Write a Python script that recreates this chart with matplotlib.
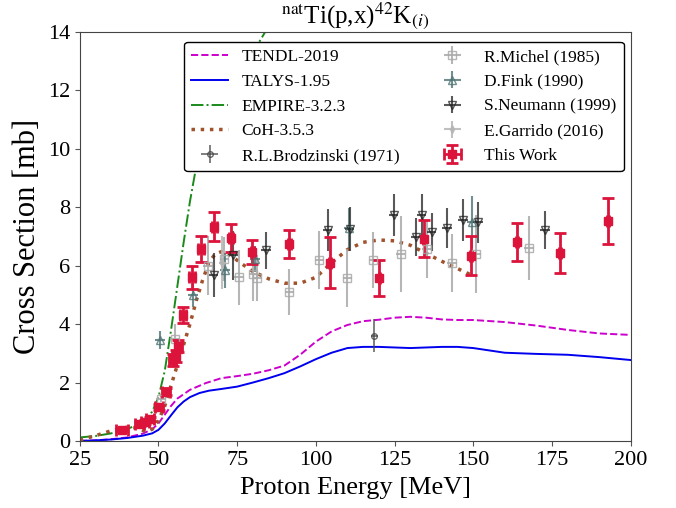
import matplotlib
matplotlib.use("Agg")
import matplotlib.pyplot as plt
import numpy as np

plt.rcParams['font.family'] = ['Liberation Serif', 'DejaVu Serif']
plt.rcParams['mathtext.fontset'] = 'stix'

# --- theory curves (energy in MeV, cross section in mb) ---
tendl_e = [25, 30, 35, 40, 45, 48, 50, 52, 54, 56, 58, 60, 65, 70, 75, 80, 85, 90, 95,
           100, 105, 110, 115, 120, 125, 130, 135, 140, 145, 150, 160, 170, 180, 190, 200]
tendl_s = [0.0, 0.02, 0.06, 0.12, 0.25, 0.4, 0.6, 0.9, 1.2, 1.45, 1.6, 1.75, 1.98, 2.15, 2.22,
           2.3, 2.42, 2.58, 2.95, 3.4, 3.75, 3.97, 4.1, 4.15, 4.22, 4.25, 4.22, 4.16, 4.14,
           4.14, 4.07, 3.95, 3.8, 3.68, 3.63]

talys_e = [25, 30, 35, 40, 45, 48, 50, 52, 54, 56, 58, 60, 63, 66, 70, 75, 80, 85, 90, 95,
           100, 105, 110, 115, 120, 125, 130, 135, 140, 145, 150, 155, 160, 170, 180, 190, 200]
talys_s = [0.0, 0.02, 0.05, 0.1, 0.18, 0.26, 0.38, 0.6, 0.88, 1.15, 1.35, 1.5, 1.64, 1.72,
           1.78, 1.86, 2.0, 2.15, 2.32, 2.55, 2.8, 3.02, 3.18, 3.22, 3.22, 3.2, 3.18, 3.2,
           3.22, 3.22, 3.18, 3.1, 3.02, 2.98, 2.95, 2.87, 2.77]

empire_e = [25, 30, 35, 40, 45, 48, 50, 52, 54, 56, 58, 60, 62, 66, 70, 75, 80, 85]
empire_s = [0.12, 0.17, 0.26, 0.4, 0.65, 1.0, 1.5, 2.4, 3.8, 5.3, 6.8, 8.2, 9.4, 10.4,
            11.2, 12.3, 13.3, 14.2]

coh_e = [25, 30, 35, 40, 43, 46, 48, 50, 52, 54, 56, 58, 60, 62, 64, 66, 68, 70, 73, 76,
         80, 85, 90, 95, 100, 105, 110, 115, 120, 125, 130, 135, 140, 145, 150]
coh_s = [0.03, 0.18, 0.35, 0.47, 0.45, 0.32, 0.4, 0.7, 1.2, 1.9, 2.6, 3.3, 4.0, 4.8, 5.5,
         6.1, 6.4, 6.48, 6.35, 6.1, 5.8, 5.55, 5.4, 5.4, 5.6, 6.1, 6.55, 6.8, 6.88, 6.85,
         6.7, 6.42, 6.15, 5.9, 5.65]

# --- experimental data ---
brod_e = [118.6]
brod_s = [3.6]
brod_err = [0.57]

michel_e = [50.8, 55.3, 65.8, 70.9, 75.6, 80.1, 81.4, 91.6, 101.1, 110.0, 118.3, 126.9,
            135.2, 143.2, 150.8, 167.7]
michel_s = [1.43, 3.5, 6.0, 6.22, 5.6, 5.7, 5.58, 5.1, 6.2, 5.58, 6.2, 6.4, 6.57, 6.1,
            6.4, 6.6]
michel_err = [0.1, 0.5, 1.0, 0.75, 0.95, 0.9, 0.8, 0.8, 1.0, 1.0, 0.95, 1.3, 1.0, 1.0,
              1.35, 1.1]

fink_e = [50.5, 61.0, 71.2, 80.7, 110.4, 149.5]
fink_s = [3.46, 5.0, 5.84, 6.22, 7.29, 7.5]
fink_err = [0.3, 0.4, 0.6, 0.45, 0.68, 0.9]

neumann_e = [67.5, 73.7, 84.2, 103.7, 110.7, 124.7, 131.7, 133.6, 136.8, 141.7, 146.7,
             151.5, 172.8]
neumann_s = [5.68, 6.35, 6.52, 7.23, 7.26, 7.74, 6.97, 7.72, 7.16, 7.3, 7.58, 7.48, 7.21]
neumann_err = [0.75, 0.85, 0.65, 0.72, 0.75, 0.72, 0.65, 0.72, 0.66, 0.68, 0.72, 0.7, 0.65]

garrido_e = [70.3]
garrido_s = [6.1]
garrido_err = [0.9]

work_e = [38.4, 44.0, 45.6, 47.3, 50.2, 52.4, 54.6, 55.5, 56.3, 57.8, 60.7, 63.5, 67.7,
          73.1, 79.8, 91.6, 104.6, 120.2, 134.2, 149.2, 163.9, 177.5, 192.8]
work_s = [0.38, 0.58, 0.65, 0.75, 1.16, 1.68, 2.77, 2.9, 3.25, 4.3, 5.6, 6.57, 7.33,
          6.95, 6.47, 6.75, 6.1, 5.58, 6.92, 6.34, 6.82, 6.44, 7.53]
work_err = [0.05, 0.06, 0.06, 0.07, 0.1, 0.12, 0.2, 0.2, 0.22, 0.27, 0.4, 0.43, 0.5,
            0.48, 0.41, 0.47, 0.87, 0.62, 0.63, 0.67, 0.65, 0.69, 0.78]
work_xerr = [2.0, 1.3, 1.3, 1.3, 1.2, 1.2, 1.1, 1.1, 1.1, 1.0, 1.0, 0.9, 0.8,
             0.6, 0.5, 0.4, 0.3, 0.3, 0.3, 0.3, 0.3, 0.3, 0.3]

fig = plt.figure(figsize=(6.76, 5.08), dpi=100)
ax = fig.add_axes([0.118, 0.132, 0.815, 0.805])

ax.plot(tendl_e, tendl_s, '--', color='#cc00cc', lw=1.4, label='TENDL-2019')
ax.plot(talys_e, talys_s, '-', color='#0000ee', lw=1.4, label='TALYS-1.95')
ax.plot(empire_e, empire_s, '-.', color='#1a8a1a', lw=1.4, label='EMPIRE-3.2.3')
ax.plot(coh_e, coh_s, ':', color='#a0522d', lw=2.5, label='CoH-3.5.3')

ax.errorbar(brod_e, brod_s, yerr=brod_err, xerr=1.0, fmt='o', color='#444444', mfc='none',
            ms=4, elinewidth=1.2, alpha=0.8, label='R.L.Brodzinski (1971)')
ax.errorbar(michel_e, michel_s, yerr=michel_err, xerr=1.5, fmt='s', color='#aaaaaa',
            mfc='none', ms=6, elinewidth=1.5, alpha=0.85, label='R.Michel (1985)')
ax.errorbar(fink_e, fink_s, yerr=fink_err, xerr=1.5, fmt='^', color='#4f7373',
            mfc='none', ms=6, elinewidth=1.5, alpha=0.8, label='D.Fink (1990)')
ax.errorbar(neumann_e, neumann_s, yerr=neumann_err, xerr=1.5, fmt='v', color='#222222',
            mfc='none', ms=6, elinewidth=1.5, alpha=0.75, label='S.Neumann (1999)')
ax.errorbar(garrido_e, garrido_s, yerr=garrido_err, xerr=1.0, fmt='d', color='#b5b5b5',
            ms=4, elinewidth=1.5, alpha=0.85, label='E.Garrido (2016)')
ax.errorbar(work_e, work_s, yerr=work_err, xerr=work_xerr, fmt='s', color='#dc143c',
            ms=6, elinewidth=2, capsize=4, capthick=2, label='This Work')

ax.set_xlim(25, 200)
ax.set_ylim(0, 14)
ax.set_xticks(np.arange(25, 201, 25))
ax.set_yticks(np.arange(0, 15, 2))
ax.tick_params(labelsize=16, color='#555555')
for s in ax.spines.values():
    s.set_color('#444444')

ax.set_xlabel('Proton Energy [MeV]', fontsize=19, labelpad=5)
ax.set_ylabel('Cross Section [mb]', fontsize=22, labelpad=4)
ax.set_title(r'$^{\rm nat}$Ti(p,x)$^{42}$K$_{(i)}$', fontsize=18, pad=2)

leg = ax.legend(ncol=2, loc='upper right', bbox_to_anchor=(0.987, 0.976), borderaxespad=0,
                fontsize=12.5, frameon=True, framealpha=1, edgecolor='black', fancybox=True,
                handlelength=2.1, columnspacing=2.0, labelspacing=0.5, borderpad=0.4)

fig.savefig('out.png', dpi=100)
